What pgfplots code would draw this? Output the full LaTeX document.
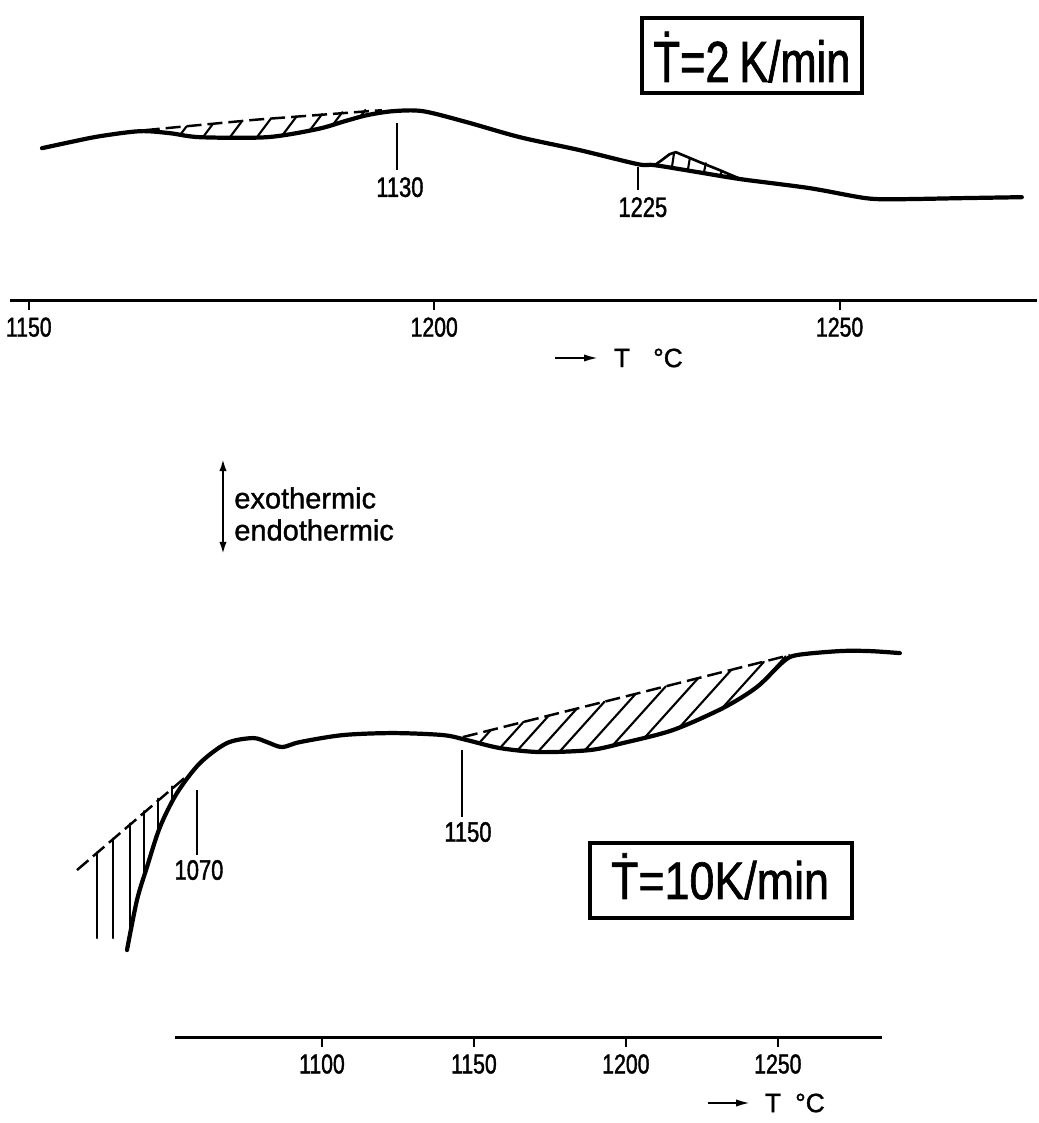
\documentclass[border=0pt]{standalone}
\usepackage{fontspec}
\setmainfont{Liberation Sans}[FakeBold=1.2]
\newfontfamily\cond[FakeStretch=0.78,FakeBold=1.4]{Liberation Sans}
\newfontfamily\condboxa[FakeStretch=0.75,FakeBold=1.2]{Liberation Sans}
\newfontfamily\condboxb[FakeStretch=0.85,FakeBold=1.2]{Liberation Sans}
\newfontfamily\labfont[FakeBold=1.4]{Liberation Sans}
\usepackage{pgfplots}
\pgfplotsset{compat=1.18}
\usetikzlibrary{arrows.meta}

\pgfplotsset{
  dta/.style={
    scale only axis, clip=false,
    axis x line*=bottom, axis y line=none,
    tick align=outside, major tick length=0.2cm,
    x axis line style={line width=1.7pt},
    every tick/.style={black, line width=1.2pt},
    xticklabel style={font=\cond\fontsize{15.5}{16}\selectfont, inner sep=1pt, yshift=-3pt},
    unbounded coords=jump,
  },
  curve/.style={black, line width=2.4pt, smooth, tension=0.5, line join=round, line cap=round},
  hatch/.style={black, line width=1.2pt, line cap=round},
  base/.style={black, line width=1.4pt, dash pattern=on 0.3cm off 0.12cm},
  mark line/.style={black, line width=1.2pt},
}

\begin{document}
\begin{tikzpicture}[x=0.02cm,y=0.02cm]
\path (0,0) rectangle (1037,1123);

% ---------------- top panel: 2 K/min ----------------
\begin{axis}[dta,
  at={(0.2cm,16.46cm)}, anchor=south west,
  width=20.54cm, height=5.7cm,
  xmin=1147.68, xmax=1274.32, ymin=0, ymax=285,
  xtick={1150,1200,1250}, xticklabels={1150,1200,1250},
]
\addplot[curve] coordinates {
 (1151.63,152) (1155.07,158) (1158.78,164) (1163.71,169) (1167.41,167)
 (1171.11,163) (1179.37,163) (1185.53,171) (1188.98,179) (1191.70,185)
 (1194.90,189) (1198.61,189) (1204.03,178) (1210.57,163) (1217.97,150)
 (1225.12,136) (1227.22,135) (1232.76,127.7) (1237.82,121) (1246.33,112)
 (1253.24,102) (1257.43,101) (1264.83,102) (1272.47,103)};
% exothermic area 1 (baseline + hatching)
\addplot[base] coordinates {(1164.3,170) (1178.0,180.5) (1193.55,190)};
\addplot[hatch] coordinates {
 (1168.64,165) (1169.42,173.4) (nan,nan)
 (1171.48,163) (1172.66,175.8) (nan,nan)
 (1174.81,163) (1176.25,178.6) (nan,nan)
 (1178.14,163) (1179.83,181.3) (nan,nan)
 (1181.34,165.6) (1183.02,183.7) (nan,nan)
 (1184.67,170) (1186.17,186.1) (nan,nan)
 (1187.51,175.5) (1188.67,188.0) (nan,nan)
 (1190.84,183) (1191.50,190.2)};
% exothermic area 2
\addplot[black, line width=1.5pt, line join=round] coordinates {
 (1227.19,135) (1228.06,140) (1229.04,146) (1229.80,148) (1232.76,138) (1235.22,130) (1237.82,121)};
\addplot[hatch] coordinates {
 (1229.31,132.5) (1229.56,146) (nan,nan)
 (1231.28,130) (1231.53,142) (nan,nan)
 (1233.26,127.5) (1233.50,137) (nan,nan)
 (1235.23,124) (1235.47,129)};
% peak markers
\addplot[mark line] coordinates {(1195.40,177) (1195.40,130)};
\node[font=\cond\fontsize{16}{16}\selectfont] at (axis cs:1195.77,113) {1130};
\addplot[mark line] coordinates {(1225.12,133) (1225.12,110)};
\node[font=\cond\fontsize{16}{16}\selectfont] at (axis cs:1225.73,93) {1225};
\end{axis}

% x label top
\draw[line width=1.5pt, -{Latex[length=9pt,width=4pt]}] (555,765) -- (600,765);
\node[font=\labfont\fontsize{15}{15}\selectfont] at (622,765) {T};
\node[font=\labfont\fontsize{15}{15}\selectfont] at (668,765) {°C};

% rate box top
\draw[line width=2.3pt] (642,1030) rectangle (862,1105);
\node[font=\condboxa\fontsize{33}{33}\selectfont, anchor=base, inner sep=0pt] at (752,1041) {Ṫ=2\,K/min};

% exo / endo arrow
\draw[line width=1.7pt, {Latex[length=8pt,width=4pt]}-{Latex[length=8pt,width=4pt]}] (223,567) -- (223,666);
\node[font=\fontsize{16.5}{17}\selectfont, anchor=west, inner sep=0pt] at (234,625) {exothermic};
\node[font=\fontsize{16.5}{17}\selectfont, anchor=west, inner sep=0pt] at (234,593) {endothermic};

% ---------------- bottom panel: 10 K/min ----------------
\begin{axis}[dta,
  at={(3.5cm,1.72cm)}, anchor=south west,
  width=14.14cm, height=8.34cm,
  xmin=1051.64, xmax=1284.21, ymin=0, ymax=417,
  xtick={1100,1150,1200,1250}, xticklabels={1100,1150,1200,1250},
]
\addplot[curve] coordinates {
 (1035.86,87) (1039.14,137) (1042.43,170) (1046.71,210) (1052.30,244)
 (1059.87,274) (1068.75,294) (1077.30,299) (1081.91,295) (1086.84,290)
 (1092.76,295) (1106.91,302) (1123.36,304) (1139.80,302) (1147.70,297)
 (1158.55,289) (1171.71,285) (1188.16,287) (1199.01,294) (1215.46,307)
 (1231.91,329) (1243.09,350) (1251.64,375) (1256.25,382) (1270.39,386)
 (1280.26,386) (1290.13,384)};
% endothermic area (left)
\addplot[base] coordinates {(1019.41,167) (1055.92,262)};
\addplot[hatch] coordinates {
 (1025.99,184.6) (1025.99,99) (nan,nan)
 (1031.25,198.7) (1031.25,99) (nan,nan)
 (1036.84,213.6) (1036.84,102) (nan,nan)
 (1041.45,226) (1041.45,160) (nan,nan)
 (1046.05,238.3) (1046.05,204) (nan,nan)
 (1050.66,250.6) (1050.66,234)};
% exothermic area (right)
\addplot[base] coordinates {(1146.38,300) (1199.01,340) (1253.95,382)};
\addplot[hatch] coordinates {
 (1151.97,294.9) (1155.56,307.0) (nan,nan)
 (1158.55,289) (1166.28,315.1) (nan,nan)
 (1164.47,287.2) (1174.64,321.5) (nan,nan)
 (1171.05,285.2) (1183.88,328.5) (nan,nan)
 (1178.29,285.8) (1192.96,335.4) (nan,nan)
 (1186.51,286.8) (1203.22,343.2) (nan,nan)
 (1195.72,291.9) (1213.13,350.7) (nan,nan)
 (1206.25,299.7) (1223.75,358.8) (nan,nan)
 (1217.76,310.1) (1234.64,367.1) (nan,nan)
 (1231.58,328.6) (1245.39,375.2) (nan,nan)
 (1245.72,357.7) (1252.53,380.7)};
% peak markers
\addplot[mark line] coordinates {(1058.88,247) (1058.88,182)};
\node[font=\cond\fontsize{16}{16}\selectfont] at (axis cs:1059.54,167) {1070};
\addplot[mark line] coordinates {(1145.95,287) (1145.95,220)};
\node[font=\cond\fontsize{16}{16}\selectfont] at (axis cs:1148.03,205) {1150};
\end{axis}

% x label bottom
\draw[line width=1.5pt, -{Latex[length=9pt,width=4pt]}] (708,20) -- (752,20);
\node[font=\labfont\fontsize{15}{15}\selectfont] at (773,20) {T};
\node[font=\labfont\fontsize{15}{15}\selectfont] at (810,20) {°C};

% rate box bottom
\draw[line width=2.3pt] (590,205) rectangle (852,280);
\node[font=\condboxb\fontsize{30}{30}\selectfont, anchor=base, inner sep=0pt] at (720,224) {Ṫ=10K/min};
\end{tikzpicture}
\end{document}
